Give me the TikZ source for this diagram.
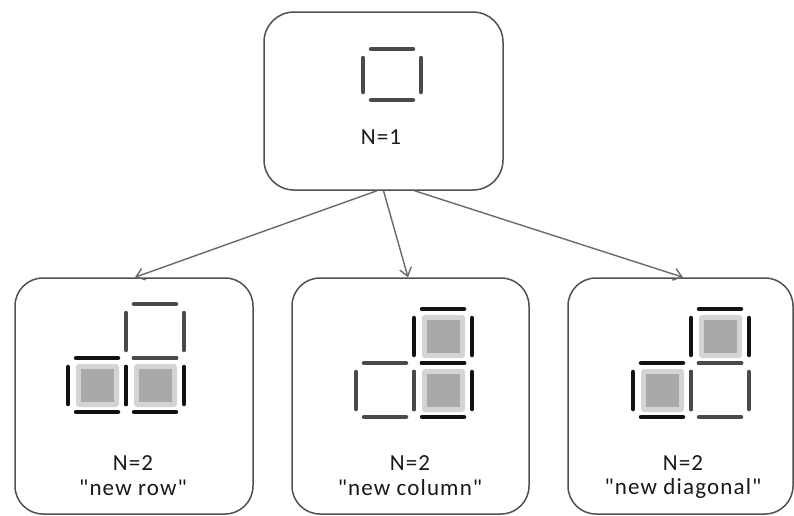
\documentclass[tikz,border=0pt]{standalone}
\usepackage{fontspec}
\setmainfont{Carlito}[Ligatures=TeXOff,LetterSpace=5]
\usetikzlibrary{arrows.meta,calc}
\definecolor{boxgray}{HTML}{505050}
\definecolor{arrgray}{HTML}{6A6A6A}
\definecolor{seggray}{HTML}{4A4A4A}
\definecolor{segblack}{HTML}{111111}
\definecolor{sqout}{HTML}{D4D4D4}
\definecolor{sqin}{HTML}{A9A9A9}
\newcommand\digcell[4]{% style, L, T, H
  \draw[#1] ({#2+8},{#3}) -- ({#2+50},{#3});
  \draw[#1] ({#2+8},{#3+#4}) -- ({#2+50},{#3+#4});
  \draw[#1] ({#2},{#3+9}) -- ({#2},{#3+#4-8});
  \draw[#1] ({#2+58},{#3+9}) -- ({#2+58},{#3+#4-8});}
\newcommand\fillsq[2]{% L, T
  \fill[sqout,rounded corners=3pt] ({#1+8},{#2+6}) rectangle ({#1+51},{#2+49});
  \fill[sqin] ({#1+13},{#2+11}) rectangle ({#1+46},{#2+44});}
\begin{document}
\begin{tikzpicture}[x=1pt,y=-1pt,
  box/.style={draw=boxgray,line width=1.5pt,rounded corners=28pt,inner sep=0pt,fill=white},
  arr/.style={draw=arrgray,line width=1.4pt,-{Straight Barb[length=8pt,width=12pt,line width=1.4pt]}},
  segE/.style={draw=seggray,line width=4.5pt,line cap=round},
  segF/.style={draw=segblack,line width=4.5pt,line cap=round},
  lbl/.style={font=\fontsize{23}{27}\selectfont,text=black!90,inner sep=0pt}]
\fill[white] (0,0) rectangle (794,515);
\useasboundingbox (0,0) rectangle (794,515);
% boxes
\node[box,minimum width=239pt,minimum height=178pt,rounded corners=30pt] (top) at (383.5,101) {};
\node[box,minimum width=238pt,minimum height=236pt] (lrow) at (134,396) {};
\node[box,minimum width=237pt,minimum height=236pt] (lcol) at (410.5,396) {};
\node[box,minimum width=225pt,minimum height=236pt] (ldia) at (680.5,396) {};
% arrows
\draw[arr] ([xshift=-6.5pt]top.south) -- ([xshift=1pt]lrow.north);
\draw[arr] (top.south) -- ([xshift=-2.5pt]lcol.north);
\draw[arr] ([xshift=31pt]top.south) -- ([xshift=2.5pt]ldia.north);
% top digit
\digcell{segE}{363}{49}{51}
\node[lbl] (t1) at (381,137) {N=1};
% new row
\digcell{segF}{68}{358}{54}
\digcell{segF}{126}{358}{54}
\digcell{segE}{126}{304}{54}
\fillsq{68}{358}
\fillsq{126}{358}
\node[lbl] (rowN) at (133,463) {N=2};
\node[lbl] (rowS) at (133,488) {"new row"};
% new column
\digcell{segF}{414}{309}{54}
\digcell{segF}{414}{363}{54}
\digcell{segE}{356}{363}{54}
\fillsq{414}{309}
\fillsq{414}{363}
\node[lbl] (colN) at (410,463) {N=2};
\node[lbl] (colS) at (410,488) {"new column"};
% new diagonal
\digcell{segF}{691}{309}{54}
\digcell{segF}{633}{363}{54}
\digcell{segE}{691}{363}{54}
\fillsq{691}{309}
\fillsq{633}{363}
\node[lbl] (diaN) at (683,463) {N=2};
\node[lbl] (diaS) at (683,488) {"new diagonal"};
\end{tikzpicture}
\end{document}
